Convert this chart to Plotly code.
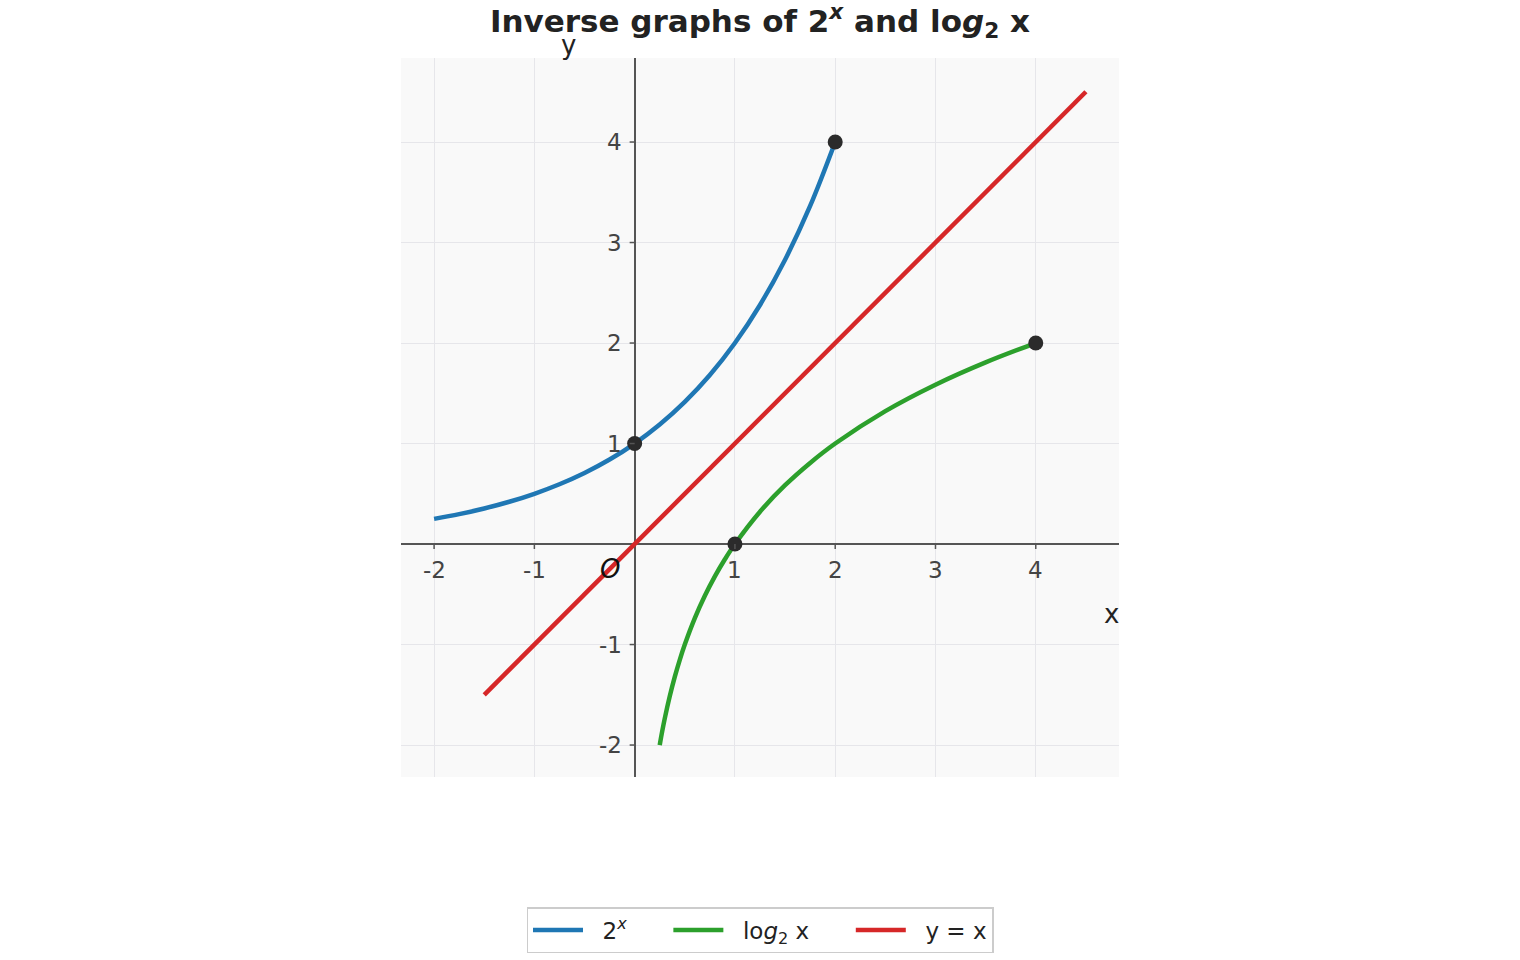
import plotly.graph_objects as go

# ---- data ----
exp_x = [-2, -1.75, -1.5, -1.25, -1, -0.75, -0.5, -0.25, 0, 0.25, 0.5, 0.75, 1, 1.25, 1.5, 1.75, 2]
exp_y = [0.25, 0.2973, 0.3536, 0.4204, 0.5, 0.5946, 0.7071, 0.8409, 1, 1.1892, 1.4142, 1.6818, 2,
         2.3784, 2.8284, 3.3636, 4]
log_x = [0.25, 0.275, 0.3, 0.35, 0.4, 0.45, 0.5, 0.6, 0.7, 0.8, 0.9, 1, 1.25, 1.5, 1.75, 2, 2.5, 3, 3.5, 4]
log_y = [-2, -1.862, -1.737, -1.515, -1.322, -1.152, -1, -0.737, -0.515, -0.322, -0.152, 0, 0.322,
         0.585, 0.807, 1, 1.322, 1.585, 1.807, 2]
id_x = [-1.5, 4.5]
id_y = [-1.5, 4.5]
pt_x = [0, 2, 1, 4]
pt_y = [1, 4, 0, 2]
x_ticks = [-2, -1, 1, 2, 3, 4]
y_ticks = [-2, -1, 1, 2, 3, 4]
x_tick_labels = ["-2", "-1", "1", "2", "3", "4"]
y_tick_labels = ["-2", "-1", "1", "2", "3", "4"]

FONT = "DejaVu Sans"
NB = "&nbsp;&nbsp;"
TRAIL = "&nbsp;" * 5
fig = go.Figure()
fig.add_trace(go.Scatter(x=exp_x, y=exp_y, mode="lines", name=NB + "2<sup><i>x</i></sup>" + TRAIL,
                         line=dict(color="#1f77b4", width=4.5, shape="spline")))
fig.add_trace(go.Scatter(x=log_x, y=log_y, mode="lines", name=NB + "lo<i>g</i><sub>2</sub> x" + TRAIL,
                         line=dict(color="#2ca02c", width=4.5, shape="spline")))
fig.add_trace(go.Scatter(x=id_x, y=id_y, mode="lines", name=NB + "y = x",
                         line=dict(color="#d62728", width=4.5)))
fig.add_trace(go.Scatter(x=pt_x, y=pt_y, mode="markers", showlegend=False,
                         marker=dict(color="#2b2b2b", size=15)))

ann = []
for v, t in zip(x_ticks, x_tick_labels):
    ann.append(dict(x=v, y=0, xref="x", yref="y", text=t, showarrow=False, yanchor="middle",
                    yshift=-26, font=dict(family=FONT, size=23, color="#444444")))
for v, t in zip(y_ticks, y_tick_labels):
    ann.append(dict(x=0, y=v, xref="x", yref="y", text=t, showarrow=False, xanchor="right",
                    yanchor="middle", xshift=-11, font=dict(family=FONT, size=23, color="#444444")))
ann.append(dict(x=-0.25, y=-0.25, xref="x", yref="y", text="<i>O</i>", showarrow=False,
                xanchor="center", yanchor="middle", font=dict(family=FONT, size=26, color="#111111")))
ann.append(dict(x=0.2326, y=1.018, xref="paper", yref="paper", text="y", showarrow=False,
                xanchor="center", yanchor="middle", font=dict(family=FONT, size=26, color="#222222")))
ann.append(dict(x=0.989, y=-0.70, xref="paper", yref="y", text="x", showarrow=False,
                xanchor="center", yanchor="middle", font=dict(family=FONT, size=26, color="#222222")))

shapes = []
for v in x_ticks:
    shapes.append(dict(type="line", xref="x", yref="y", ysizemode="pixel", yanchor=0,
                       x0=v, x1=v, y0=0, y1=-5, line=dict(color="#555555", width=1.5)))
for v in y_ticks:
    shapes.append(dict(type="line", xref="x", yref="y", xsizemode="pixel", xanchor=0,
                       x0=0, x1=-5, y0=v, y1=v, line=dict(color="#555555", width=1.5)))

fig.update_layout(
    width=1520, height=960,
    margin=dict(l=401, r=401, t=58, b=183),
    paper_bgcolor="white", plot_bgcolor="#f9f9f9",
    title=dict(text="<b>Inverse graphs of 2<sup><i>x</i></sup> and lo<i>g</i><sub>2</sub> x</b>",
               x=0.5, xanchor="center", y=0.978, yanchor="middle",
               font=dict(family=FONT, size=31, color="#222222")),
    xaxis=dict(range=[-2.33, 4.83], dtick=1, tick0=0, showticklabels=False, ticks="",
               showgrid=True, gridcolor="#e6e6ea", gridwidth=1,
               zeroline=True, zerolinecolor="#555555", zerolinewidth=1.5, showline=False),
    yaxis=dict(range=[-2.318, 4.836], dtick=1, tick0=0, showticklabels=False, ticks="",
               showgrid=True, gridcolor="#e6e6ea", gridwidth=1,
               zeroline=True, zerolinecolor="#555555", zerolinewidth=1.5, showline=False),
    legend=dict(orientation="h", x=0.5, xanchor="center", xref="container",
                y=1 - 930 / 960, yanchor="middle", yref="container",
                bordercolor="#cccccc", borderwidth=1.5, bgcolor="white",
                font=dict(family=FONT, size=23, color="#222222"), itemwidth=50),
    annotations=ann, shapes=shapes, showlegend=True,
)
fig.write_html("out.html")
